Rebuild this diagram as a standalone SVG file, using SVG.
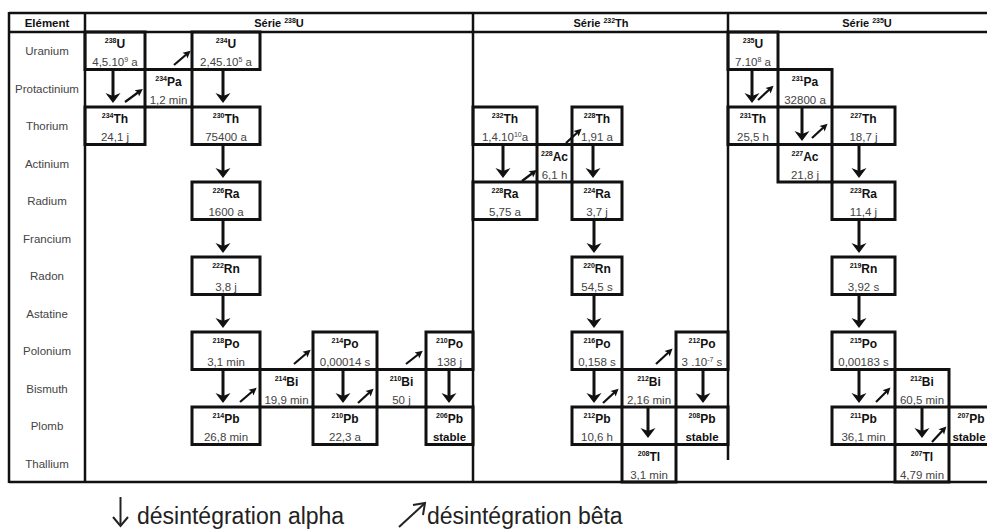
<svg xmlns="http://www.w3.org/2000/svg" width="987" height="529" viewBox="0 0 987 529">
<defs>
<style>
text{font-family:'Liberation Sans',Arial,sans-serif}
.frame{stroke:#111;stroke-width:2.5;fill:none}
.box{stroke:#111;stroke-width:3;fill:none}
.el{font-size:11.5px;fill:#444;text-anchor:middle}
.hd{font-size:11px;font-weight:bold;fill:#111;text-anchor:middle}
.sym{font-size:12px;font-weight:bold;fill:#111;text-anchor:middle}
.val{font-size:11.5px;fill:#444;text-anchor:middle}
.stb{font-size:11.5px;font-weight:bold;fill:#111;text-anchor:middle}
.sup{font-size:7px}
.alpha{stroke:#111;stroke-width:3;marker-end:url(#ah)}
.beta{stroke:#111;stroke-width:2.2;marker-end:url(#bh)}
.leg{font-size:23px;fill:#222}
.legarrow{stroke:#222;stroke-width:2;fill:none}
</style>
<marker id="ah" markerUnits="userSpaceOnUse" viewBox="-6 -8 12 16" markerWidth="12" markerHeight="16" refX="0" refY="0" orient="auto"><path d="M5,0 L-5,-7.5 L-2,0 L-5,7.5 Z" fill="#111"/></marker>
<marker id="bh" markerUnits="userSpaceOnUse" viewBox="-5 -5 10 10" markerWidth="10" markerHeight="10" refX="0" refY="0" orient="auto"><path d="M3.5,0 L-4,-3.8 L-2.5,0 L-4,3.8 Z" fill="#111"/></marker>
</defs>
<rect width="987" height="529" fill="#fff"/>

<g id="table">
<line class="frame" x1="9" y1="13" x2="990" y2="13"/>
<line class="frame" x1="9" y1="32" x2="990" y2="32"/>
<line class="frame" x1="9" y1="482" x2="990" y2="482"/>
<line class="frame" x1="9" y1="12" x2="9" y2="483"/>
<line class="frame" x1="85" y1="12" x2="85" y2="483"/>
<line class="frame" x1="473" y1="12" x2="473" y2="483"/>
<line class="frame" x1="728" y1="12" x2="728" y2="460"/>
<text class="hd" x="47" y="27" style="font-size:11.5px">Elément</text>
<text class="hd" x="279" y="27">Série <tspan class="sup" dy="-4">238</tspan><tspan dy="4">U</tspan></text>
<text class="hd" x="601" y="27">Série <tspan class="sup" dy="-4">232</tspan><tspan dy="4">Th</tspan></text>
<text class="hd" x="867" y="27">Série <tspan class="sup" dy="-4">235</tspan><tspan dy="4">U</tspan></text>
<text class="el" x="47" y="55">Uranium</text>
<text class="el" x="47" y="92.5">Protactinium</text>
<text class="el" x="47" y="130">Thorium</text>
<text class="el" x="47" y="167.5">Actinium</text>
<text class="el" x="47" y="205">Radium</text>
<text class="el" x="47" y="242.5">Francium</text>
<text class="el" x="47" y="280">Radon</text>
<text class="el" x="47" y="317.5">Astatine</text>
<text class="el" x="47" y="355">Polonium</text>
<text class="el" x="47" y="392.5">Bismuth</text>
<text class="el" x="47" y="430">Plomb</text>
<text class="el" x="47" y="467.5">Thallium</text>
</g>

<g id="n-u238"><rect class="box" x="85" y="32" width="60" height="37.5"/><text class="sym" x="115" y="48"><tspan class="sup" dy="-5">238</tspan><tspan dy="5">U</tspan></text><text class="val" x="115" y="66">4,5.10<tspan class="sup" dy="-4">9</tspan><tspan dy="4"> a</tspan></text></g>
<g id="n-pa234"><rect class="box" x="145" y="69.5" width="47" height="37.5"/><text class="sym" x="168.5" y="85.5"><tspan class="sup" dy="-5">234</tspan><tspan dy="5">Pa</tspan></text><text class="val" x="168.5" y="103.5">1,2 min</text></g>
<g id="n-u234"><rect class="box" x="192" y="32" width="68" height="37.5"/><text class="sym" x="226" y="48"><tspan class="sup" dy="-5">234</tspan><tspan dy="5">U</tspan></text><text class="val" x="226" y="66">2,45.10<tspan class="sup" dy="-4">5</tspan><tspan dy="4"> a</tspan></text></g>
<g id="n-th234"><rect class="box" x="85" y="107" width="60" height="37.5"/><text class="sym" x="115" y="123"><tspan class="sup" dy="-5">234</tspan><tspan dy="5">Th</tspan></text><text class="val" x="115" y="141">24,1 j</text></g>
<g id="n-th230"><rect class="box" x="192" y="107" width="68" height="37.5"/><text class="sym" x="226" y="123"><tspan class="sup" dy="-5">230</tspan><tspan dy="5">Th</tspan></text><text class="val" x="226" y="141">75400 a</text></g>
<g id="n-ra226"><rect class="box" x="192" y="182" width="68" height="37.5"/><text class="sym" x="226" y="198"><tspan class="sup" dy="-5">226</tspan><tspan dy="5">Ra</tspan></text><text class="val" x="226" y="216">1600 a</text></g>
<g id="n-rn222"><rect class="box" x="192" y="257" width="68" height="37.5"/><text class="sym" x="226" y="273"><tspan class="sup" dy="-5">222</tspan><tspan dy="5">Rn</tspan></text><text class="val" x="226" y="291">3,8 j</text></g>
<g id="n-po218"><rect class="box" x="192" y="332" width="68" height="37.5"/><text class="sym" x="226" y="348"><tspan class="sup" dy="-5">218</tspan><tspan dy="5">Po</tspan></text><text class="val" x="226" y="366">3,1 min</text></g>
<g id="n-bi214"><rect class="box" x="260" y="369.5" width="53" height="37.5"/><text class="sym" x="286.5" y="385.5"><tspan class="sup" dy="-5">214</tspan><tspan dy="5">Bi</tspan></text><text class="val" x="286.5" y="403.5">19,9 min</text></g>
<g id="n-po214"><rect class="box" x="313" y="332" width="64" height="37.5"/><text class="sym" x="345" y="348"><tspan class="sup" dy="-5">214</tspan><tspan dy="5">Po</tspan></text><text class="val" x="345" y="366">0,00014 s</text></g>
<g id="n-bi210"><rect class="box" x="377" y="369.5" width="49" height="37.5"/><text class="sym" x="401.5" y="385.5"><tspan class="sup" dy="-5">210</tspan><tspan dy="5">Bi</tspan></text><text class="val" x="401.5" y="403.5">50 j</text></g>
<g id="n-po210"><rect class="box" x="426" y="332" width="47" height="37.5"/><text class="sym" x="449.5" y="348"><tspan class="sup" dy="-5">210</tspan><tspan dy="5">Po</tspan></text><text class="val" x="449.5" y="366">138 j</text></g>
<g id="n-pb214"><rect class="box" x="192" y="407" width="68" height="37.5"/><text class="sym" x="226" y="423"><tspan class="sup" dy="-5">214</tspan><tspan dy="5">Pb</tspan></text><text class="val" x="226" y="441">26,8 min</text></g>
<g id="n-pb210"><rect class="box" x="313" y="407" width="64" height="37.5"/><text class="sym" x="345" y="423"><tspan class="sup" dy="-5">210</tspan><tspan dy="5">Pb</tspan></text><text class="val" x="345" y="441">22,3 a</text></g>
<g id="n-pb206"><rect class="box" x="426" y="407" width="47" height="37.5"/><text class="sym" x="449.5" y="423"><tspan class="sup" dy="-5">206</tspan><tspan dy="5">Pb</tspan></text><text class="stb" x="449.5" y="441">stable</text></g>

<g id="n-th232"><rect class="box" x="473" y="107" width="64" height="37.5"/><text class="sym" x="505" y="123"><tspan class="sup" dy="-5">232</tspan><tspan dy="5">Th</tspan></text><text class="val" x="505" y="141">1,4.10<tspan class="sup" dy="-4">10</tspan><tspan dy="4">a</tspan></text></g>
<g id="n-ac228"><rect class="box" x="537" y="144.5" width="35" height="37.5"/><text class="sym" x="554.5" y="160.5"><tspan class="sup" dy="-5">228</tspan><tspan dy="5">Ac</tspan></text><text class="val" x="554.5" y="178.5">6,1 h</text></g>
<g id="n-th228"><rect class="box" x="572" y="107" width="50" height="37.5"/><text class="sym" x="597" y="123"><tspan class="sup" dy="-5">228</tspan><tspan dy="5">Th</tspan></text><text class="val" x="597" y="141">1,91 a</text></g>
<g id="n-ra228"><rect class="box" x="473" y="182" width="64" height="37.5"/><text class="sym" x="505" y="198"><tspan class="sup" dy="-5">228</tspan><tspan dy="5">Ra</tspan></text><text class="val" x="505" y="216">5,75 a</text></g>
<g id="n-ra224"><rect class="box" x="572" y="182" width="50" height="37.5"/><text class="sym" x="597" y="198"><tspan class="sup" dy="-5">224</tspan><tspan dy="5">Ra</tspan></text><text class="val" x="597" y="216">3,7 j</text></g>
<g id="n-rn220"><rect class="box" x="572" y="257" width="50" height="37.5"/><text class="sym" x="597" y="273"><tspan class="sup" dy="-5">220</tspan><tspan dy="5">Rn</tspan></text><text class="val" x="597" y="291">54,5 s</text></g>
<g id="n-po216"><rect class="box" x="572" y="332" width="50" height="37.5"/><text class="sym" x="597" y="348"><tspan class="sup" dy="-5">216</tspan><tspan dy="5">Po</tspan></text><text class="val" x="597" y="366">0,158 s</text></g>
<g id="n-bi212"><rect class="box" x="622" y="369.5" width="54" height="37.5"/><text class="sym" x="649" y="385.5"><tspan class="sup" dy="-5">212</tspan><tspan dy="5">Bi</tspan></text><text class="val" x="649" y="403.5">2,16 min</text></g>
<g id="n-po212"><rect class="box" x="676" y="332" width="52" height="37.5"/><text class="sym" x="702" y="348"><tspan class="sup" dy="-5">212</tspan><tspan dy="5">Po</tspan></text><text class="val" x="702" y="366">3 .10<tspan class="sup" dy="-4">-7</tspan><tspan dy="4"> s</tspan></text></g>
<g id="n-pb212"><rect class="box" x="572" y="407" width="50" height="37.5"/><text class="sym" x="597" y="423"><tspan class="sup" dy="-5">212</tspan><tspan dy="5">Pb</tspan></text><text class="val" x="597" y="441">10,6 h</text></g>
<g id="n-pb208"><rect class="box" x="676" y="407" width="52" height="37.5"/><text class="sym" x="702" y="423"><tspan class="sup" dy="-5">208</tspan><tspan dy="5">Pb</tspan></text><text class="stb" x="702" y="441">stable</text></g>
<g id="n-tl208"><rect class="box" x="622" y="444.5" width="54" height="37.5"/><text class="sym" x="649" y="460.5"><tspan class="sup" dy="-5">208</tspan><tspan dy="5">Tl</tspan></text><text class="val" x="649" y="478.5">3,1 min</text></g>

<g id="n-u235"><rect class="box" x="728" y="32" width="50" height="37.5"/><text class="sym" x="753" y="48"><tspan class="sup" dy="-5">235</tspan><tspan dy="5">U</tspan></text><text class="val" x="753" y="66">7.10<tspan class="sup" dy="-4">8</tspan><tspan dy="4"> a</tspan></text></g>
<g id="n-pa231"><rect class="box" x="778" y="69.5" width="54" height="37.5"/><text class="sym" x="805" y="85.5"><tspan class="sup" dy="-5">231</tspan><tspan dy="5">Pa</tspan></text><text class="val" x="805" y="103.5">32800 a</text></g>
<g id="n-th231"><rect class="box" x="728" y="107" width="50" height="37.5"/><text class="sym" x="753" y="123"><tspan class="sup" dy="-5">231</tspan><tspan dy="5">Th</tspan></text><text class="val" x="753" y="141">25,5 h</text></g>
<g id="n-th227"><rect class="box" x="832" y="107" width="63" height="37.5"/><text class="sym" x="863.5" y="123"><tspan class="sup" dy="-5">227</tspan><tspan dy="5">Th</tspan></text><text class="val" x="863.5" y="141">18,7 j</text></g>
<g id="n-ac227"><rect class="box" x="778" y="144.5" width="54" height="37.5"/><text class="sym" x="805" y="160.5"><tspan class="sup" dy="-5">227</tspan><tspan dy="5">Ac</tspan></text><text class="val" x="805" y="178.5">21,8 j</text></g>
<g id="n-ra223"><rect class="box" x="832" y="182" width="63" height="37.5"/><text class="sym" x="863.5" y="198"><tspan class="sup" dy="-5">223</tspan><tspan dy="5">Ra</tspan></text><text class="val" x="863.5" y="216">11,4 j</text></g>
<g id="n-rn219"><rect class="box" x="832" y="257" width="63" height="37.5"/><text class="sym" x="863.5" y="273"><tspan class="sup" dy="-5">219</tspan><tspan dy="5">Rn</tspan></text><text class="val" x="863.5" y="291">3,92 s</text></g>
<g id="n-po215"><rect class="box" x="832" y="332" width="63" height="37.5"/><text class="sym" x="863.5" y="348"><tspan class="sup" dy="-5">215</tspan><tspan dy="5">Po</tspan></text><text class="val" x="863.5" y="366">0,00183 s</text></g>
<g id="n-bi211"><rect class="box" x="895" y="369.5" width="54" height="37.5"/><text class="sym" x="922" y="385.5"><tspan class="sup" dy="-5">212</tspan><tspan dy="5">Bi</tspan></text><text class="val" x="922" y="403.5">60,5 min</text></g>
<g id="n-pb211"><rect class="box" x="832" y="407" width="63" height="37.5"/><text class="sym" x="863.5" y="423"><tspan class="sup" dy="-5">211</tspan><tspan dy="5">Pb</tspan></text><text class="val" x="863.5" y="441">36,1 min</text></g>
<g id="n-tl207"><rect class="box" x="895" y="444.5" width="54" height="37.5"/><text class="sym" x="922" y="460.5"><tspan class="sup" dy="-5">207</tspan><tspan dy="5">Tl</tspan></text><text class="val" x="922" y="478.5">4,79 min</text></g>
<g id="n-pb207"><rect class="box" x="949" y="407" width="60" height="37.5"/><text class="sym" x="971" y="423"><tspan class="sup" dy="-5">207</tspan><tspan dy="5">Pb</tspan></text><text class="stb" x="969" y="441">stable</text></g>

<g id="connectors">
<line class="alpha" x1="113" y1="69.5" x2="113" y2="98"/>
<line class="alpha" x1="223" y1="69.5" x2="223" y2="98"/>
<line class="alpha" x1="223" y1="144.5" x2="223" y2="173"/>
<line class="alpha" x1="223" y1="219.5" x2="223" y2="248"/>
<line class="alpha" x1="223" y1="294.5" x2="223" y2="323"/>
<line class="alpha" x1="223" y1="369.5" x2="223" y2="398"/>
<line class="alpha" x1="343" y1="369.5" x2="343" y2="398"/>
<line class="alpha" x1="449" y1="369.5" x2="449" y2="398"/>
<line class="alpha" x1="503" y1="144.5" x2="503" y2="173"/>
<line class="alpha" x1="593" y1="144.5" x2="593" y2="173"/>
<line class="alpha" x1="594" y1="219.5" x2="594" y2="248"/>
<line class="alpha" x1="594" y1="294.5" x2="594" y2="323"/>
<line class="alpha" x1="594" y1="369.5" x2="594" y2="398"/>
<line class="alpha" x1="703" y1="369.5" x2="703" y2="398"/>
<line class="alpha" x1="648" y1="407" x2="648" y2="433"/>
<line class="alpha" x1="752" y1="69.5" x2="752" y2="98"/>
<line class="alpha" x1="802" y1="107" x2="802" y2="136"/>
<line class="alpha" x1="859" y1="144.5" x2="859" y2="173"/>
<line class="alpha" x1="859" y1="219.5" x2="859" y2="248"/>
<line class="alpha" x1="859" y1="294.5" x2="859" y2="323"/>
<line class="alpha" x1="859" y1="369.5" x2="859" y2="398"/>
<line class="alpha" x1="922" y1="407" x2="922" y2="433"/>
<line class="beta" x1="174" y1="65" x2="188" y2="53"/>
<line class="beta" x1="125" y1="102" x2="140" y2="91"/>
<line class="beta" x1="294" y1="364" x2="308" y2="352"/>
<line class="beta" x1="240" y1="402" x2="254" y2="390"/>
<line class="beta" x1="406" y1="364" x2="420" y2="353"/>
<line class="beta" x1="358" y1="403" x2="371" y2="391"/>
<line class="beta" x1="522" y1="181" x2="534" y2="172"/>
<line class="beta" x1="566" y1="143" x2="579" y2="131"/>
<line class="beta" x1="656" y1="364" x2="670" y2="351"/>
<line class="beta" x1="603" y1="403" x2="616" y2="391"/>
<line class="beta" x1="758" y1="100" x2="771" y2="88"/>
<line class="beta" x1="812" y1="138" x2="825" y2="126"/>
<line class="beta" x1="876" y1="402" x2="888" y2="390"/>
<line class="beta" x1="932" y1="442" x2="944" y2="429"/>
</g>

<g id="legend">
<line class="legarrow" x1="120.5" y1="497" x2="120.5" y2="525"/>
<polyline class="legarrow" points="113,517 120.5,526 128,517"/>
<text class="leg" x="137" y="524">désintégration alpha</text>
<line class="legarrow" x1="399" y1="527" x2="424" y2="504"/>
<polyline class="legarrow" points="413,505 425,503 423,515"/>
<text class="leg" x="427" y="524">désintégration bêta</text>
</g>
</svg>
